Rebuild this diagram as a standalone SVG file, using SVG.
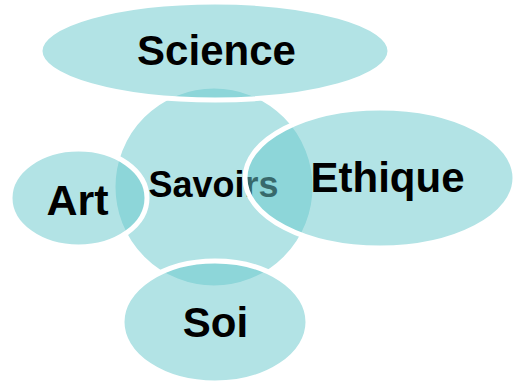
<svg xmlns="http://www.w3.org/2000/svg" width="513" height="386" viewBox="0 0 513 386">
<style>
.shape{fill:rgba(107,201,205,0.52);stroke:#ffffff;stroke-width:5}
.lbl{font-family:"Liberation Sans",Arial,sans-serif;font-weight:bold;fill:#000000;text-anchor:middle}
</style>
<rect width="513" height="386" fill="#ffffff"/>
<g id="savoirs">
<circle class="shape" cx="214" cy="187" r="101"/>
<text class="lbl" x="213.5" y="197" font-size="36">Savoirs</text>
</g>
<g id="science">
<ellipse class="shape" cx="215" cy="51" rx="175" ry="49"/>
<text class="lbl" x="216.5" y="65" font-size="42">Science</text>
</g>
<g id="art">
<ellipse class="shape" cx="78.5" cy="198" rx="68.5" ry="49"/>
<text class="lbl" x="77.5" y="215" font-size="43">Art</text>
</g>
<g id="ethique">
<ellipse class="shape" cx="380" cy="178" rx="135" ry="70"/>
<text class="lbl" x="387.5" y="192" font-size="42">Ethique</text>
</g>
<g id="soi">
<ellipse class="shape" cx="215" cy="322" rx="93" ry="61"/>
<text class="lbl" x="215.5" y="337" font-size="42">Soi</text>
</g>
</svg>
